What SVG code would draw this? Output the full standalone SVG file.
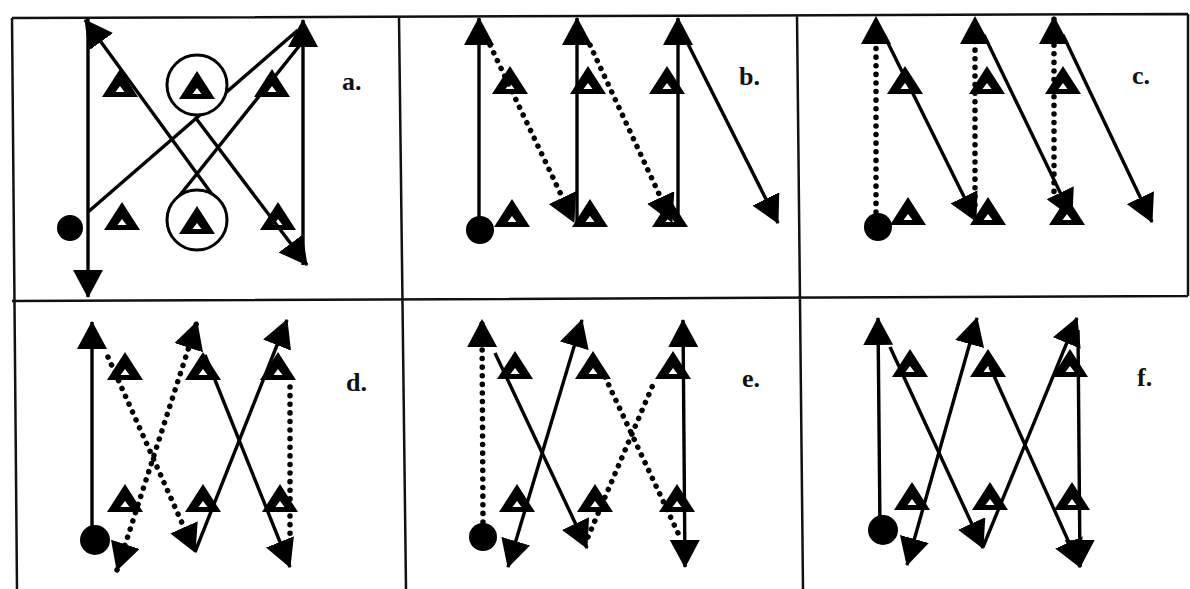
<svg xmlns="http://www.w3.org/2000/svg" width="1190" height="589" viewBox="0 0 1190 589">
<style>
.grid{stroke:#111;stroke-width:2.5;fill:none}
.s{stroke:#000;stroke-width:3.4;fill:none}
.d{stroke:#000;stroke-width:5.5;fill:none;stroke-dasharray:0.1 8.5;stroke-linecap:round}
.ring{stroke:#000;stroke-width:3;fill:#fff}
.dot{fill:#000}
.lbl{font-family:"Liberation Serif","Times New Roman",serif;font-weight:bold;font-size:26px;fill:#111}
</style>
<defs>
<marker id="ah" viewBox="0 0 28 30" refX="27" refY="15" markerWidth="28" markerHeight="30" markerUnits="userSpaceOnUse" orient="auto-start-reverse"><path d="M0,0 L28,15 L0,30 Z" fill="#000"/></marker>
<path id="cone" d="M0,-16 L18,12 L-18,12 Z M0,1 L4.5,7 L-4.5,7 Z" fill="#000" fill-rule="evenodd"/>
</defs>
<rect width="1190" height="589" fill="#fff"/>
<g id="grid">
<path class="grid" d="M12,18 L1188,14 M12,301 L1188,296 M12,18 L17,589 M399,17 L406,589 M797,15 L803,589 M1188,14 L1188,296"/>
</g>
<g id="connectors">
<!-- a -->
<line class="s" x1="88" y1="18" x2="88" y2="297" marker-end="url(#ah)"/>
<line class="s" x1="303" y1="265" x2="303" y2="20" marker-end="url(#ah)"/>
<line class="s" x1="88" y1="212" x2="298" y2="30"/>
<line class="s" x1="172" y1="205" x2="300" y2="45"/>
<line class="s" x1="222" y1="208" x2="85" y2="20" marker-end="url(#ah)"/>
<line class="s" x1="195" y1="117" x2="307" y2="265" marker-end="url(#ah)"/>
<!-- b -->
<line class="s" x1="479" y1="228" x2="479" y2="18" marker-end="url(#ah)"/>
<line class="s" x1="577" y1="222" x2="577" y2="18" marker-end="url(#ah)"/>
<line class="s" x1="678" y1="222" x2="678" y2="18" marker-end="url(#ah)"/>
<line class="d" x1="490" y1="45" x2="574" y2="222" marker-end="url(#ah)"/>
<line class="d" x1="590" y1="45" x2="672" y2="222" marker-end="url(#ah)"/>
<line class="s" x1="685" y1="38" x2="778" y2="223" marker-end="url(#ah)"/>
<!-- c -->
<line class="d" x1="876" y1="212" x2="876" y2="17" marker-end="url(#ah)"/>
<line class="d" x1="975" y1="205" x2="975" y2="17" marker-end="url(#ah)"/>
<line class="d" x1="1054" y1="200" x2="1054" y2="17" marker-end="url(#ah)"/>
<line class="s" x1="884" y1="35" x2="976" y2="221" marker-end="url(#ah)"/>
<line class="s" x1="984" y1="35" x2="1072" y2="217" marker-end="url(#ah)"/>
<line class="s" x1="1063" y1="35" x2="1152" y2="222" marker-end="url(#ah)"/>
<!-- d -->
<line class="s" x1="92" y1="540" x2="92" y2="322" marker-end="url(#ah)"/>
<line class="d" x1="108" y1="357" x2="195" y2="552" marker-end="url(#ah)"/>
<line class="s" x1="195" y1="552" x2="287" y2="320" marker-end="url(#ah)"/>
<line class="d" x1="117" y1="570" x2="197" y2="322" marker-start="url(#ah)" marker-end="url(#ah)"/>
<line class="s" x1="205" y1="355" x2="290" y2="567" marker-end="url(#ah)"/>
<line class="d" x1="290" y1="387" x2="290" y2="545"/>
<!-- e -->
<line class="d" x1="483" y1="522" x2="482" y2="320" marker-end="url(#ah)"/>
<line class="s" x1="495" y1="353" x2="587" y2="548" marker-end="url(#ah)"/>
<line class="s" x1="508" y1="567" x2="582" y2="320" marker-start="url(#ah)" marker-end="url(#ah)"/>
<line class="d" x1="605" y1="377" x2="678" y2="533"/>
<line class="d" x1="588" y1="537" x2="655" y2="380"/>
<line class="s" x1="683" y1="320" x2="685" y2="567" marker-start="url(#ah)" marker-end="url(#ah)"/>
<!-- f -->
<line class="s" x1="880" y1="530" x2="878" y2="318" marker-end="url(#ah)"/>
<line class="s" x1="890" y1="347" x2="983" y2="548" marker-end="url(#ah)"/>
<line class="s" x1="907" y1="565" x2="977" y2="318" marker-start="url(#ah)" marker-end="url(#ah)"/>
<line class="s" x1="990" y1="367" x2="1080" y2="567" marker-end="url(#ah)"/>
<line class="s" x1="983" y1="547" x2="1077" y2="318" marker-end="url(#ah)"/>
<line class="s" x1="1078" y1="330" x2="1080" y2="567" marker-end="url(#ah)"/>
</g>
<g id="panel-a">
<circle id="a-ring-top" class="ring" cx="197" cy="85" r="30"/>
<circle id="a-ring-bottom" class="ring" cx="197" cy="220" r="30"/>
<circle id="a-start" class="dot" cx="70" cy="228" r="13"/>
<g id="a-cones">
<use href="#cone" x="120" y="85"/><use href="#cone" x="197" y="87"/><use href="#cone" x="272" y="85"/>
<use href="#cone" x="122" y="218"/><use href="#cone" x="197" y="222"/><use href="#cone" x="278" y="218"/>
</g>
<text id="a-label" class="lbl" x="342" y="90">a.</text>
</g>
<g id="panel-b">
<circle id="b-start" class="dot" cx="480" cy="230" r="14"/>
<g id="b-cones">
<use href="#cone" x="510" y="82"/><use href="#cone" x="588" y="82"/><use href="#cone" x="667" y="82"/>
<use href="#cone" x="512" y="215"/><use href="#cone" x="590" y="215"/><use href="#cone" x="670" y="215"/>
</g>
<text id="b-label" class="lbl" x="739" y="85">b.</text>
</g>
<g id="panel-c">
<circle id="c-start" class="dot" cx="878" cy="227" r="14"/>
<g id="c-cones">
<use href="#cone" x="905" y="82"/><use href="#cone" x="987" y="82"/><use href="#cone" x="1063" y="82"/>
<use href="#cone" x="908" y="213"/><use href="#cone" x="988" y="213"/><use href="#cone" x="1067" y="213"/>
</g>
<text id="c-label" class="lbl" x="1132" y="84">c.</text>
</g>
<g id="panel-d">
<circle id="d-start" class="dot" cx="95" cy="540" r="15"/>
<g id="d-cones">
<use href="#cone" x="125" y="368"/><use href="#cone" x="203" y="368"/><use href="#cone" x="278" y="368"/>
<use href="#cone" x="125" y="500"/><use href="#cone" x="203" y="500"/><use href="#cone" x="280" y="500"/>
</g>
<text id="d-label" class="lbl" x="346" y="391">d.</text>
</g>
<g id="panel-e">
<circle id="e-start" class="dot" cx="483" cy="537" r="14"/>
<g id="e-cones">
<use href="#cone" x="515" y="367"/><use href="#cone" x="593" y="367"/><use href="#cone" x="673" y="367"/>
<use href="#cone" x="517" y="500"/><use href="#cone" x="595" y="500"/><use href="#cone" x="677" y="500"/>
</g>
<text id="e-label" class="lbl" x="742" y="387">e.</text>
</g>
<g id="panel-f">
<circle id="f-start" class="dot" cx="883" cy="530" r="15"/>
<g id="f-cones">
<use href="#cone" x="910" y="365"/><use href="#cone" x="988" y="365"/><use href="#cone" x="1070" y="365"/>
<use href="#cone" x="912" y="498"/><use href="#cone" x="990" y="498"/><use href="#cone" x="1072" y="498"/>
</g>
<text id="f-label" class="lbl" x="1137" y="386">f.</text>
</g>
</svg>
